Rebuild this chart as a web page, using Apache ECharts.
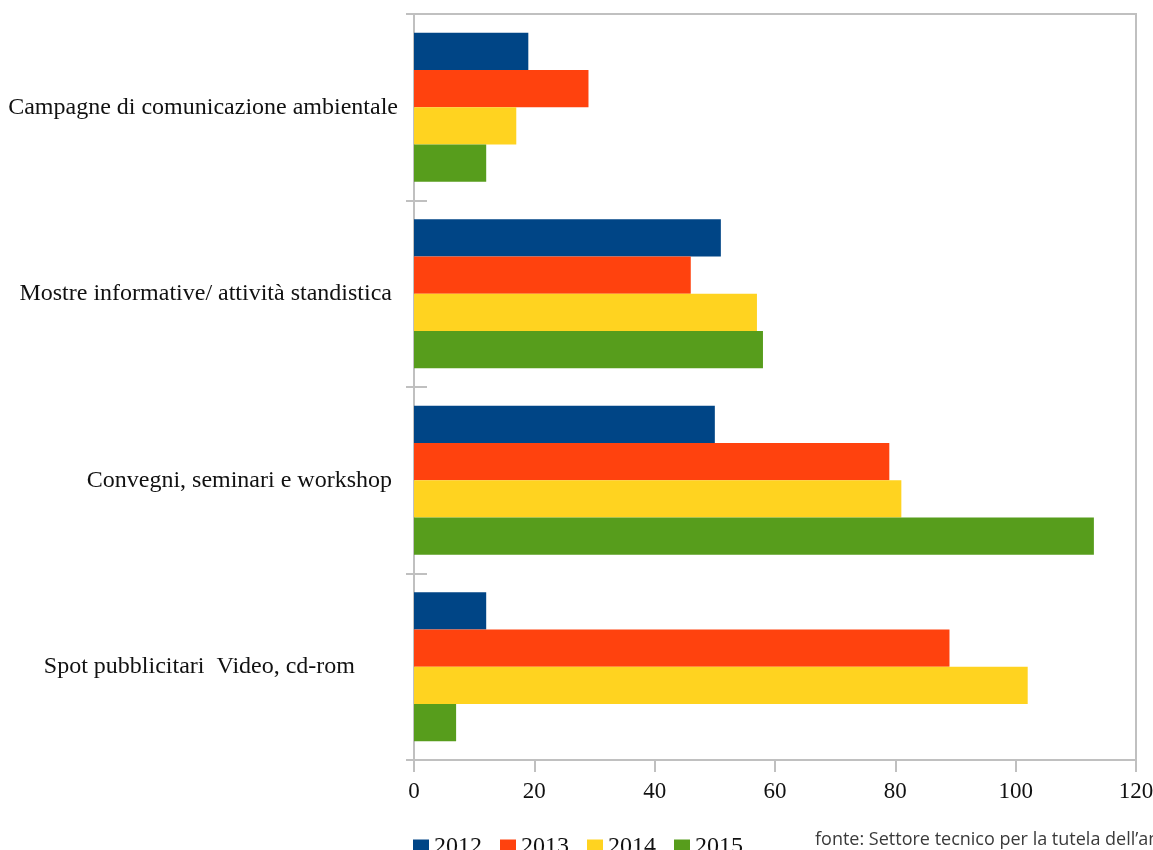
<!DOCTYPE html>
<html>
<head>
<meta charset="utf-8">
<script src="https://cdn.jsdelivr.net/npm/echarts@6/dist/echarts.min.js"></script>
<style>html,body{margin:0;padding:0;background:#fff}#c{width:1153px;height:850px}</style>
</head>
<body>
<div id="c"></div>
<script>
const categories = ["Campagne di comunicazione ambientale", "Mostre informative/ attività standistica", "Convegni, seminari e workshop", "Spot pubblicitari  Video, cd-rom"];
const years = ["2012", "2013", "2014", "2015"];
const v2012 = [19, 51, 50, 12];
const v2013 = [29, 46, 79, 89];
const v2014 = [17, 57, 81, 102];
const v2015 = [12, 58, 113, 7];
const xTicks = { min: 0, max: 120, interval: 20 };
const sourceText = "fonte: Settore tecnico per la tutela dell’ambiente";

const colors = ['#004586', '#ff420e', '#ffd320', '#579d1c'];
const serif = "'Liberation Serif', 'DejaVu Serif', serif";
const axisGray = '#c0c0c0';
const labelPad = [0, 6, 6, 43];
const lf = 24;

const chart = echarts.init(document.getElementById('c'), null, { renderer: 'canvas' });
const seriesVals = [v2012, v2013, v2014, v2015];
const rich = {};
labelPad.forEach((p, i) => { rich['p' + i] = { fontFamily: serif, fontSize: lf, color: '#111', padding: [0, p, 0, 0] }; });
chart.setOption({
  animation: false,
  backgroundColor: '#fff',
  color: colors,
  grid: { left: 414, right: 17, top: 14, bottom: 90, show: true, borderColor: axisGray, borderWidth: 2, backgroundColor: 'transparent', outerBoundsMode: 'none', containLabel: false },
  legend: {
    data: years, left: 408, top: 830, icon: 'rect', itemWidth: 16, itemHeight: 15, itemGap: 18,
    textStyle: { fontFamily: serif, fontSize: 24, color: '#111' }
  },
  xAxis: {
    type: 'value', min: xTicks.min, max: xTicks.max, interval: xTicks.interval,
    axisLine: { show: true, lineStyle: { color: axisGray, width: 2 } },
    axisTick: { show: true, length: 12, lineStyle: { color: axisGray, width: 2 } },
    splitLine: { show: false },
    axisLabel: { fontFamily: serif, fontSize: 23, color: '#111', margin: 20, hideOverlap: false }
  },
  yAxis: [
    {
      type: 'category', data: categories, inverse: true, position: 'left',
      axisLine: { show: true, lineStyle: { color: axisGray, width: 2 } },
      axisTick: { show: true, length: 8, lineStyle: { color: axisGray, width: 2 } },
      axisLabel: {
        margin: 16, fontFamily: serif, fontSize: lf, color: '#111',
        formatter: function (v, i) { return '{p' + i + '|' + v + '}'; },
        rich: rich
      }
    },
    {
      type: 'category', data: categories, inverse: true, position: 'left', offset: 0,
      axisLine: { show: false },
      axisTick: { show: true, inside: true, length: 13, lineStyle: { color: axisGray, width: 2 } },
      axisLabel: { show: false }
    }
  ],
  series: years.map((y, i) => ({
    name: y, type: 'bar', yAxisIndex: 0, data: seriesVals[i],
    barGap: '0%', barCategoryGap: '20%',
    itemStyle: { color: colors[i] }
  })),
  graphic: [{
    type: 'text', left: 815, top: 831,
    style: { text: sourceText, fontFamily: "'Open Sans', 'Noto Sans', sans-serif", fontSize: 18, fill: '#3a3a3a' }
  }]
});
</script>
</body>
</html>
